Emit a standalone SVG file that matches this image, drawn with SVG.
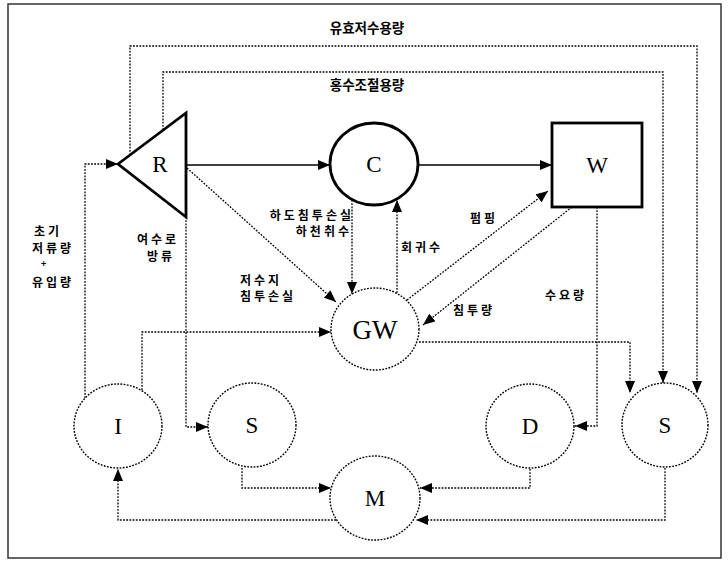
<svg xmlns="http://www.w3.org/2000/svg" width="728" height="561" viewBox="0 0 728 561">
<style>
.frame{fill:none;stroke:#333;stroke-width:1.5}
.node{fill:#fff;stroke:#000;stroke-width:2.8}
.dnode{fill:#fff;stroke:#000;stroke-width:1.4;stroke-dasharray:1.8 1.4}
.sol{fill:none;stroke:#000;stroke-width:1.3}
.dot{fill:none;stroke:#000;stroke-width:1.3;stroke-dasharray:1.8 1.4}
.lbl{font-family:"Liberation Serif",serif;font-size:23px;fill:#000;text-anchor:middle}
.kr{font-family:"Noto Sans CJK KR","Noto Sans",sans-serif;font-size:12px;font-weight:bold;fill:#000;letter-spacing:3px}
.ttl{font-family:"Noto Sans CJK KR","Noto Sans",sans-serif;font-size:13.5px;font-weight:bold;fill:#000;text-anchor:middle}
</style>
<defs>
<marker id="ah" markerUnits="userSpaceOnUse" markerWidth="13" markerHeight="10" refX="12" refY="5" orient="auto"><path d="M0,0 L12,5 L0,10 z" fill="#000"/></marker>
</defs>
<rect class="frame" x="8" y="4" width="713" height="554"/>
<g id="connectors">
<path class="dot" d="M130,155 L130,46 L697,46 L697,393" marker-end="url(#ah)"/>
<path class="dot" d="M163,130 L163,72 L663,72 L663,383" marker-end="url(#ah)"/>
<path class="sol" d="M186,165 L330,165" marker-end="url(#ah)"/>
<path class="sol" d="M418,165 L552,165" marker-end="url(#ah)"/>
<path class="dot" d="M85,398 L85,164 L118,164" marker-end="url(#ah)"/>
<path class="dot" d="M142,390 L142,332 L331,332" marker-end="url(#ah)"/>
<path class="dot" d="M186,217 L186,427 L208,427" marker-end="url(#ah)"/>
<path class="dot" d="M187,168 L336,302" marker-end="url(#ah)"/>
<path class="dot" d="M352,200 L352,294" marker-end="url(#ah)"/>
<path class="dot" d="M397,293 L397,200" marker-end="url(#ah)"/>
<path class="dot" d="M407,300 L548,191" marker-end="url(#ah)"/>
<path class="dot" d="M572,207 L423,325" marker-end="url(#ah)"/>
<path class="dot" d="M597,207 L597,426 L575,426" marker-end="url(#ah)"/>
<path class="dot" d="M419,342 L630,342 L630,393" marker-end="url(#ah)"/>
<path class="dot" d="M242,468 L242,488 L331,488" marker-end="url(#ah)"/>
<path class="dot" d="M336,520 L118,520 L118,469" marker-end="url(#ah)"/>
<path class="dot" d="M530,469 L530,488 L420,488" marker-end="url(#ah)"/>
<path class="dot" d="M665,468 L665,520 L416,520" marker-end="url(#ah)"/>
</g>
<g id="R"><polygon class="node" points="118,164 186,113 186,217"/><text class="lbl" x="160" y="172">R</text></g>
<g id="C"><ellipse class="node" cx="374" cy="164" rx="44" ry="41"/><text class="lbl" x="374" y="172">C</text></g>
<g id="W"><rect class="node" x="552" y="123" width="90" height="84"/><text class="lbl" x="597" y="173">W</text></g>
<g id="GW"><ellipse class="dnode" cx="375" cy="329" rx="44" ry="41"/><text class="lbl" x="375" y="339" style="font-size:27px">GW</text></g>
<g id="I"><ellipse class="dnode" cx="118" cy="426" rx="44" ry="42"/><text class="lbl" x="118" y="434">I</text></g>
<g id="S1"><ellipse class="dnode" cx="252" cy="425" rx="44" ry="42"/><text class="lbl" x="252" y="433">S</text></g>
<g id="D"><ellipse class="dnode" cx="530" cy="426" rx="44" ry="42"/><text class="lbl" x="530" y="434">D</text></g>
<g id="S2"><ellipse class="dnode" cx="665" cy="425" rx="43" ry="42"/><text class="lbl" x="665" y="433">S</text></g>
<g id="M"><ellipse class="dnode" cx="375" cy="498" rx="45" ry="42"/><text class="lbl" x="375" y="506">M</text></g>
<g id="labels">
<text class="ttl" x="367" y="33">유효저수용량</text>
<text class="ttl" x="367" y="90">홍수조절용량</text>
<text class="kr" x="34" y="236">초기</text>
<text class="kr" x="32" y="253">저류량</text>
<text class="kr" x="41" y="267" style="font-size:9px">+</text>
<text class="kr" x="32" y="287">유입량</text>
<text class="kr" x="137" y="244">여수로</text>
<text class="kr" x="147" y="261">방류</text>
<text class="kr" x="354" y="220" text-anchor="end">하도침투손실</text>
<text class="kr" x="352" y="236" text-anchor="end">하천취수</text>
<text class="kr" x="240" y="285">저수지</text>
<text class="kr" x="240" y="301">침투손실</text>
<text class="kr" x="470" y="223">펌핑</text>
<text class="kr" x="401" y="252">회귀수</text>
<text class="kr" x="545" y="300">수요량</text>
<text class="kr" x="453" y="315">침투량</text>
</g>
</svg>
